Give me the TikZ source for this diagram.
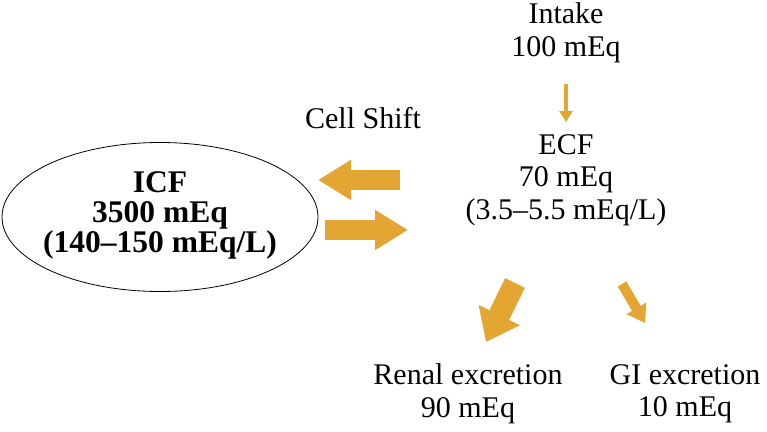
\documentclass[tikz,border=0pt]{standalone}
\usepackage{fontspec}
\setmainfont{Liberation Serif}
\usepackage{tikz}
\usetikzlibrary{arrows.meta}
\usetikzlibrary{shapes.geometric}
\usetikzlibrary{positioning}

\definecolor{flowc}{RGB}{227,166,50}

\begin{document}
\begin{tikzpicture}
  [x=1pt, y=-1pt,
   lbl/.style={align=center, inner sep=0pt,
      font=\fontsize{30}{32.5}\selectfont},
   flow/.style={draw=flowc, line width=#1},
  ]
  \useasboundingbox (0,0) rectangle (767,431);

  % compartments
  \node[draw, ellipse, minimum width=316pt, minimum height=149pt,
        line width=0.8pt] (icf) at (160,217) {};
  \node[lbl, font=\bfseries\fontsize{31.5}{30}\selectfont] (icflbl) at (160,215)
       {ICF\\3500 mEq\\(140--150 mEq/L)};
  \node[lbl] (ecf) at (566,180) {ECF\\70 mEq\\(3.5--5.5 mEq/L)};
  \node[lbl] (intake) at (566,33) {Intake\\100 mEq};
  \node[lbl] (shift) at (363,118) {Cell Shift};
  \node[lbl] (renal) at (468,394) {Renal excretion\\90 mEq};
  \node[lbl] (gi) at (685,394) {GI excretion\\10 mEq};

  % arrow ends
  \coordinate (inA) at (566,84);
  \coordinate (inB) at (566,122);
  \coordinate (outA) at (400,180);
  \coordinate (outB) at (318,180);
  \coordinate (backA) at (325,230);
  \coordinate (backB) at (408,230);
  \coordinate (renA) at (515,283);
  \coordinate (renB) at (486,342);
  \coordinate (giA) at (622,284);
  \coordinate (giB) at (645,323);

  \draw[flow=3.5pt, -{Triangle[length=11pt, width=13pt]}] (inA) -- (inB);
  \draw[flow=20pt, -{Triangle[length=33pt, width=38pt]}] (outA) -- (outB);
  \draw[flow=20pt, -{Triangle[length=33pt, width=38pt]}] (backA) -- (backB);
  \draw[flow=22pt, -{Triangle[length=30pt, width=44pt]}] (renA) -- (renB);
  \draw[flow=10pt, -{Triangle[length=17pt, width=22pt]}] (giA) -- (giB);
\end{tikzpicture}
\end{document}
